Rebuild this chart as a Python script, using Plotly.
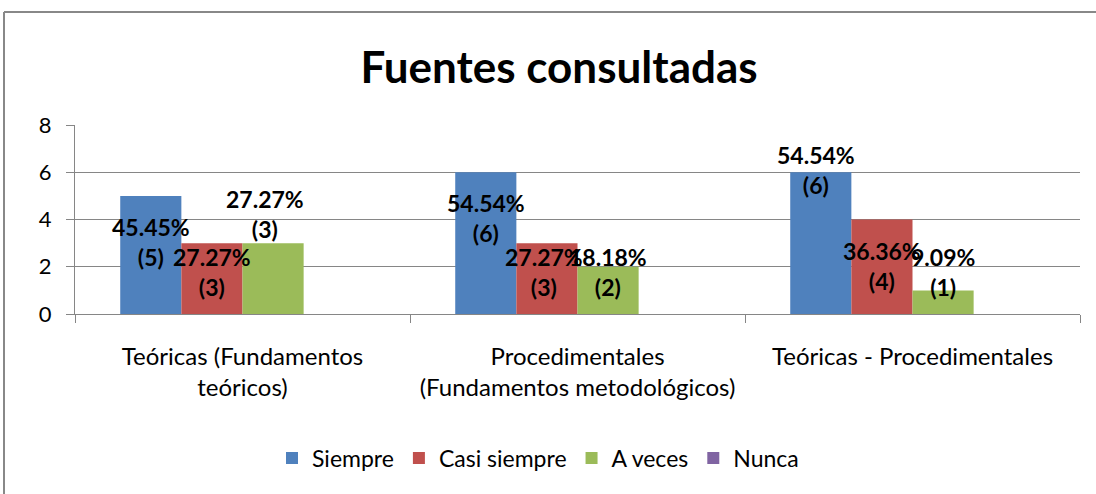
import plotly.graph_objects as go

categories = ["Teóricas (Fundamentos<br>teóricos)",
              "Procedimentales<br>(Fundamentos metodológicos)",
              "Teóricas - Procedimentales"]
series_names = ["Siempre", "Casi siempre", "A veces", "Nunca"]
siempre = [5, 6, 6]
casi_siempre = [3, 3, 4]
a_veces = [3, 2, 1]
nunca = [0, 0, 0]
pct_siempre = ["45.45%", "54.54%", "54.54%"]
pct_casi = ["27.27%", "27.27%", "36.36%"]
pct_aveces = ["27.27%", "18.18%", "9.09%"]
y_ticks = [0, 2, 4, 6, 8]

colors = ["#4F81BD", "#C0504D", "#9BBB59", "#8064A2"]
FONT = "Lato, Calibri, Carlito, sans-serif"

fig = go.Figure()
for name, vals, col in zip(series_names, [siempre, casi_siempre, a_veces, nunca], colors):
    fig.add_trace(go.Bar(name=name, x=categories, y=vals, marker=dict(color=col, line=dict(width=0))))

# data labels (manually nudged like the original)
bargap = 0.27
bw = (1 - bargap) / 4
offsets = [-1.5 * bw, -0.5 * bw, 0.5 * bw]
label_y = [[3.05, 4.06, 6.10],   # siempre
           [1.78, 1.78, 2.03],   # casi siempre
           [4.23, 1.78, 1.78]]   # a veces
label_dx = [[0, 0, -0.013], [0, -0.01, 0], [-0.025, 0, 0]]
for s, (vals, pcts) in enumerate([(siempre, pct_siempre), (casi_siempre, pct_casi), (a_veces, pct_aveces)]):
    for i, (v, p) in enumerate(zip(vals, pcts)):
        fig.add_annotation(x=i + offsets[s] + label_dx[s][i], y=label_y[s][i], xref="x", yref="y",
                           text=f"<b>{p}<br>({v})</b>", showarrow=False,
                           font=dict(family=FONT, size=23, color="black"))

L, R, T, B = 75, 16, 125, 180
W, H = 1096, 494
pw, ph = W - L - R, H - T - B
def px(x): return (x - L) / pw
def py(y): return (H - B - y) / ph

fig.add_shape(type="line", xref="paper", yref="paper", x0=px(4), x1=px(4), y0=py(H), y1=py(12),
              line=dict(color="#888888", width=2))
fig.add_shape(type="line", xref="paper", yref="paper", x0=px(4), x1=px(W), y0=py(12), y1=py(12),
              line=dict(color="#888888", width=2))

fig.update_layout(
    width=W, height=H,
    margin=dict(l=L, r=R, t=T, b=B),
    paper_bgcolor="white", plot_bgcolor="white",
    barmode="group", bargap=bargap, bargroupgap=0,
    font=dict(family=FONT, size=20, color="black"),
    title=dict(text="<b>Fuentes consultadas</b>", x=px(559), xref="paper", xanchor="center",
               y=1 - 68 / H, yanchor="middle", font=dict(family=FONT, size=44, color="black")),
    legend=dict(orientation="h", x=px(538), xanchor="center", y=py(458), yanchor="middle",
                font=dict(family=FONT, size=23), itemwidth=30, tracegroupgap=0),
    xaxis=dict(showline=True, linecolor="#868686", linewidth=1, ticks="outside", tickson="boundaries",
               tickcolor="#868686", ticklen=8, showgrid=False, ticklabelstandoff=21,
               tickfont=dict(family=FONT, size=24)),
    yaxis=dict(range=[0, 8], tickvals=y_ticks, showline=True, linecolor="#868686", linewidth=1,
               ticks="outside", tickcolor="#868686", ticklen=8, showgrid=True, gridcolor="#868686",
               gridwidth=1, zeroline=False, tickfont=dict(family=FONT, size=22), ticklabelstandoff=10),
)

fig.write_html("out.html", config={"displayModeBar": False},
               post_script="document.body.style.margin='0';")
